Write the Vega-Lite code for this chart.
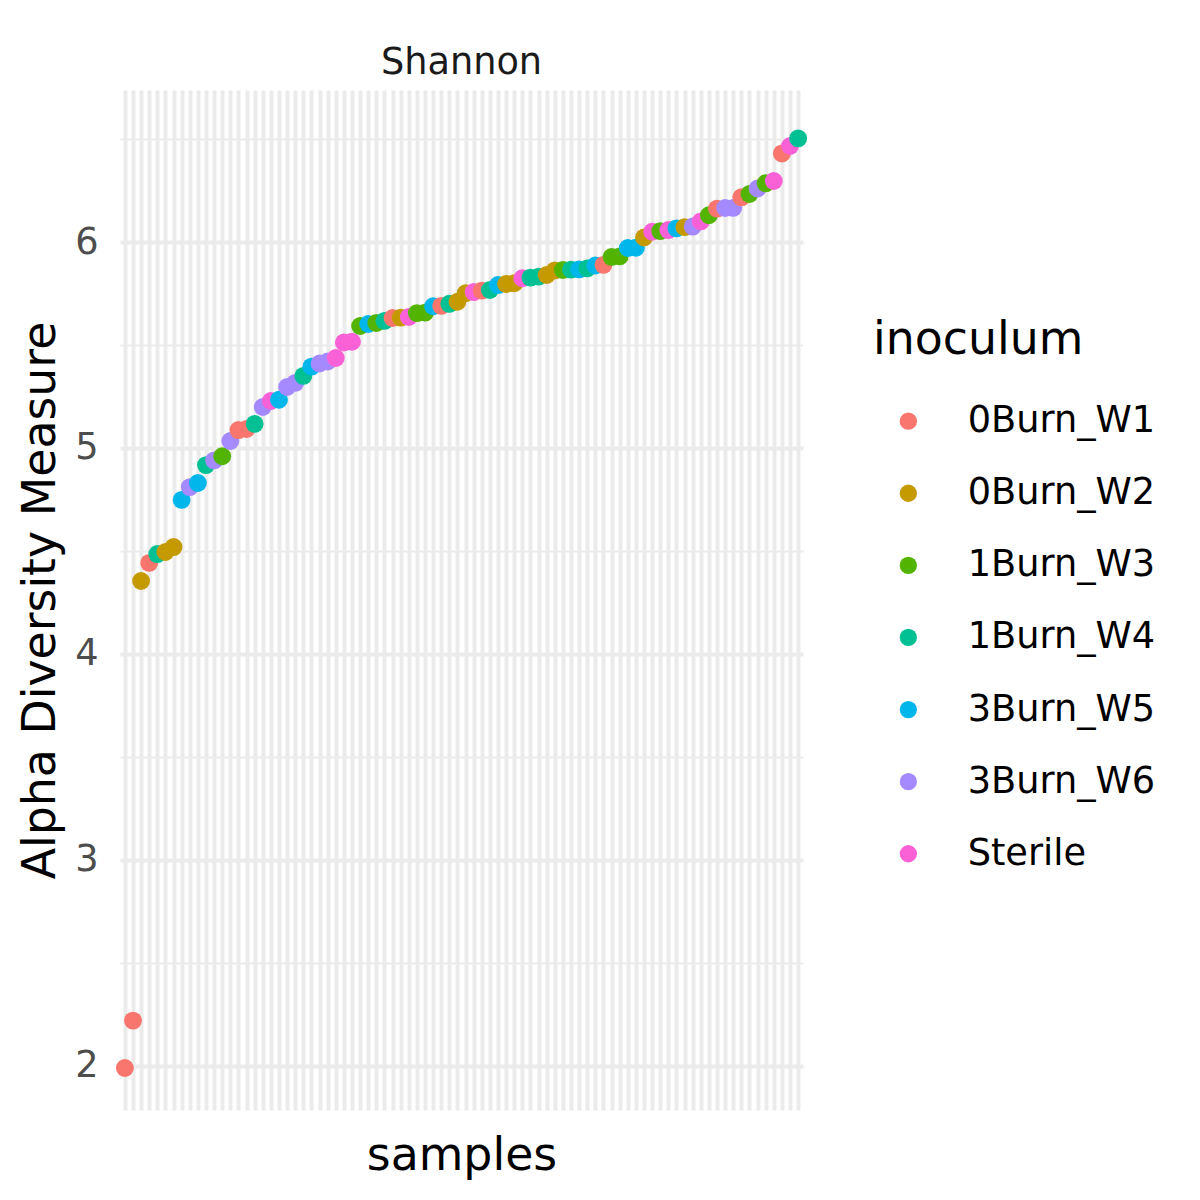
{
  "$schema": "https://vega.github.io/schema/vega-lite/v6.json",
  "width": 683,
  "height": 1020,
  "autosize": "none",
  "padding": {"left": 120, "top": 90, "right": 397, "bottom": 90},
  "background": "white",
  "title": {"text": "Shannon", "fontSize": 36.7, "fontWeight": "normal", "color": "#1A1A1A", "anchor": "middle", "offset": 8},
  "data": {"values": [
    {"sample": "S01", "value": 1.99, "inoculum": "0Burn_W1"},
    {"sample": "S02", "value": 2.22, "inoculum": "0Burn_W1"},
    {"sample": "S03", "value": 4.354, "inoculum": "0Burn_W2"},
    {"sample": "S04", "value": 4.442, "inoculum": "0Burn_W1"},
    {"sample": "S05", "value": 4.485, "inoculum": "1Burn_W4"},
    {"sample": "S06", "value": 4.495, "inoculum": "0Burn_W2"},
    {"sample": "S07", "value": 4.519, "inoculum": "0Burn_W2"},
    {"sample": "S08", "value": 4.748, "inoculum": "3Burn_W5"},
    {"sample": "S09", "value": 4.81, "inoculum": "3Burn_W6"},
    {"sample": "S10", "value": 4.83, "inoculum": "3Burn_W5"},
    {"sample": "S11", "value": 4.917, "inoculum": "1Burn_W4"},
    {"sample": "S12", "value": 4.94, "inoculum": "3Burn_W6"},
    {"sample": "S13", "value": 4.96, "inoculum": "1Burn_W3"},
    {"sample": "S14", "value": 5.034, "inoculum": "3Burn_W6"},
    {"sample": "S15", "value": 5.087, "inoculum": "0Burn_W1"},
    {"sample": "S16", "value": 5.092, "inoculum": "0Burn_W1"},
    {"sample": "S17", "value": 5.117, "inoculum": "1Burn_W4"},
    {"sample": "S18", "value": 5.199, "inoculum": "3Burn_W6"},
    {"sample": "S19", "value": 5.228, "inoculum": "Sterile"},
    {"sample": "S20", "value": 5.234, "inoculum": "3Burn_W5"},
    {"sample": "S21", "value": 5.296, "inoculum": "3Burn_W6"},
    {"sample": "S22", "value": 5.316, "inoculum": "3Burn_W6"},
    {"sample": "S23", "value": 5.35, "inoculum": "1Burn_W4"},
    {"sample": "S24", "value": 5.395, "inoculum": "3Burn_W5"},
    {"sample": "S25", "value": 5.41, "inoculum": "3Burn_W6"},
    {"sample": "S26", "value": 5.42, "inoculum": "3Burn_W6"},
    {"sample": "S27", "value": 5.437, "inoculum": "Sterile"},
    {"sample": "S28", "value": 5.512, "inoculum": "Sterile"},
    {"sample": "S29", "value": 5.516, "inoculum": "Sterile"},
    {"sample": "S30", "value": 5.592, "inoculum": "1Burn_W3"},
    {"sample": "S31", "value": 5.602, "inoculum": "3Burn_W5"},
    {"sample": "S32", "value": 5.607, "inoculum": "1Burn_W3"},
    {"sample": "S33", "value": 5.617, "inoculum": "1Burn_W4"},
    {"sample": "S34", "value": 5.631, "inoculum": "0Burn_W1"},
    {"sample": "S35", "value": 5.633, "inoculum": "0Burn_W2"},
    {"sample": "S36", "value": 5.636, "inoculum": "Sterile"},
    {"sample": "S37", "value": 5.655, "inoculum": "1Burn_W3"},
    {"sample": "S38", "value": 5.657, "inoculum": "1Burn_W3"},
    {"sample": "S39", "value": 5.688, "inoculum": "3Burn_W5"},
    {"sample": "S40", "value": 5.69, "inoculum": "0Burn_W1"},
    {"sample": "S41", "value": 5.70, "inoculum": "1Burn_W4"},
    {"sample": "S42", "value": 5.71, "inoculum": "0Burn_W2"},
    {"sample": "S43", "value": 5.751, "inoculum": "0Burn_W2"},
    {"sample": "S44", "value": 5.757, "inoculum": "Sterile"},
    {"sample": "S45", "value": 5.764, "inoculum": "0Burn_W1"},
    {"sample": "S46", "value": 5.767, "inoculum": "1Burn_W4"},
    {"sample": "S47", "value": 5.791, "inoculum": "3Burn_W5"},
    {"sample": "S48", "value": 5.796, "inoculum": "0Burn_W2"},
    {"sample": "S49", "value": 5.80, "inoculum": "0Burn_W2"},
    {"sample": "S50", "value": 5.824, "inoculum": "Sterile"},
    {"sample": "S51", "value": 5.827, "inoculum": "1Burn_W4"},
    {"sample": "S52", "value": 5.832, "inoculum": "1Burn_W4"},
    {"sample": "S53", "value": 5.84, "inoculum": "0Burn_W2"},
    {"sample": "S54", "value": 5.862, "inoculum": "0Burn_W2"},
    {"sample": "S55", "value": 5.864, "inoculum": "1Burn_W3"},
    {"sample": "S56", "value": 5.866, "inoculum": "1Burn_W4"},
    {"sample": "S57", "value": 5.867, "inoculum": "3Burn_W5"},
    {"sample": "S58", "value": 5.872, "inoculum": "1Burn_W4"},
    {"sample": "S59", "value": 5.886, "inoculum": "3Burn_W5"},
    {"sample": "S60", "value": 5.889, "inoculum": "0Burn_W1"},
    {"sample": "S61", "value": 5.927, "inoculum": "1Burn_W3"},
    {"sample": "S62", "value": 5.93, "inoculum": "1Burn_W3"},
    {"sample": "S63", "value": 5.971, "inoculum": "3Burn_W5"},
    {"sample": "S64", "value": 5.972, "inoculum": "3Burn_W5"},
    {"sample": "S65", "value": 6.022, "inoculum": "0Burn_W2"},
    {"sample": "S66", "value": 6.05, "inoculum": "Sterile"},
    {"sample": "S67", "value": 6.053, "inoculum": "1Burn_W3"},
    {"sample": "S68", "value": 6.058, "inoculum": "Sterile"},
    {"sample": "S69", "value": 6.066, "inoculum": "3Burn_W5"},
    {"sample": "S70", "value": 6.072, "inoculum": "0Burn_W2"},
    {"sample": "S71", "value": 6.075, "inoculum": "3Burn_W6"},
    {"sample": "S72", "value": 6.10, "inoculum": "Sterile"},
    {"sample": "S73", "value": 6.13, "inoculum": "1Burn_W3"},
    {"sample": "S74", "value": 6.162, "inoculum": "0Burn_W1"},
    {"sample": "S75", "value": 6.165, "inoculum": "3Burn_W6"},
    {"sample": "S76", "value": 6.166, "inoculum": "3Burn_W6"},
    {"sample": "S77", "value": 6.217, "inoculum": "0Burn_W1"},
    {"sample": "S78", "value": 6.233, "inoculum": "1Burn_W3"},
    {"sample": "S79", "value": 6.26, "inoculum": "3Burn_W6"},
    {"sample": "S80", "value": 6.285, "inoculum": "1Burn_W3"},
    {"sample": "S81", "value": 6.296, "inoculum": "Sterile"},
    {"sample": "S82", "value": 6.43, "inoculum": "0Burn_W1"},
    {"sample": "S83", "value": 6.466, "inoculum": "Sterile"},
    {"sample": "S84", "value": 6.503, "inoculum": "1Burn_W4"}
  ]},
  "mark": {"type": "circle", "size": 320, "opacity": 1},
  "encoding": {
    "x": {
      "field": "sample", "type": "ordinal", "sort": null,
      "scale": {"type": "point", "padding": 0.6},
      "axis": {"title": "samples", "labels": false, "ticks": false, "domain": false, "grid": true,
        "gridColor": "#EBEBEB", "gridWidth": 4, "titleFontSize": 45.8, "titleFontWeight": "normal",
        "titleColor": "#000000", "titlePadding": 23}
    },
    "y": {
      "field": "value", "type": "quantitative",
      "scale": {"domain": [1.786, 6.738], "nice": false, "zero": false},
      "axis": {"title": "Alpha Diversity Measure", "values": [2, 2.5, 3, 3.5, 4, 4.5, 5, 5.5, 6, 6.5],
        "labelExpr": "datum.value % 1 === 0 ? format(datum.value, 'd') : ''",
        "ticks": false, "domain": false, "grid": true, "gridColor": "#EBEBEB",
        "gridWidth": {"condition": {"test": "datum.value % 1 === 0", "value": 4}, "value": 2},
        "labelFontSize": 36.7, "labelColor": "#4D4D4D", "labelPadding": 22,
        "titleFontSize": 45.8, "titleFontWeight": "normal", "titleColor": "#000000", "titlePadding": 10}
    },
    "color": {
      "field": "inoculum", "type": "nominal",
      "scale": {"domain": ["0Burn_W1", "0Burn_W2", "1Burn_W3", "1Burn_W4", "3Burn_W5", "3Burn_W6", "Sterile"],
        "range": ["#F8766D", "#C49A00", "#53B400", "#00C094", "#00B6EB", "#A58AFF", "#FB61D7"]},
      "legend": {"orient": "none", "legendX": 753, "legendY": 228, "title": "inoculum",
        "titleFontSize": 45.8, "titleFontWeight": "normal", "titleColor": "#000000", "titlePadding": 39,
        "titleLimit": 0, "labelLimit": 0,
        "labelFontSize": 36.7, "labelColor": "#000000", "symbolType": "circle", "symbolSize": 300,
        "symbolStrokeWidth": 0, "symbolOpacity": 1, "symbolOffset": 17, "labelOffset": 41,
        "rowPadding": 34.1, "padding": 0}
    }
  },
  "config": {"font": "DejaVu Sans", "view": {"stroke": null}}
}
